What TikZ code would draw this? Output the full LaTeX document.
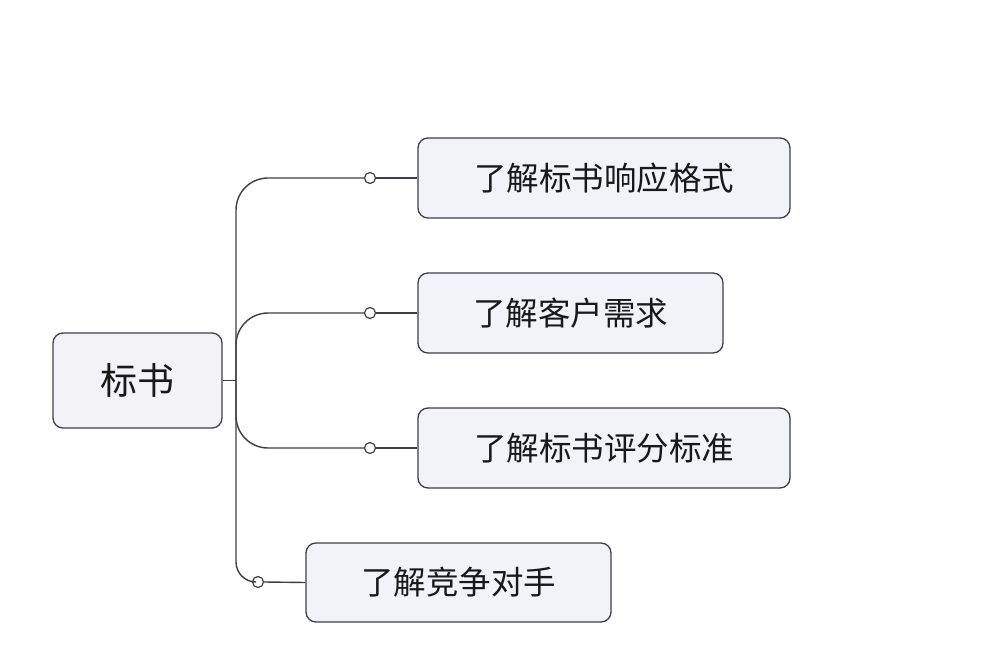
\documentclass[tikz,border=0pt]{standalone}
\usepackage{fontspec}
\newfontfamily\cjk{Noto Sans CJK SC}
\definecolor{edge}{HTML}{3E3E4A}
\definecolor{boxfill}{HTML}{F1F3F9}
\definecolor{rootfill}{HTML}{F3F3F7}
\tikzset{
  topicbox/.style={draw=edge, line width=1.3pt, rounded corners=10pt, fill=boxfill,
    minimum height=80pt, inner sep=0pt, font=\cjk\fontsize{32.5}{38}\selectfont, text=black!90},
  rootbox/.style={topicbox, fill=rootfill, minimum width=169pt, minimum height=95pt,
    font=\cjk\fontsize{37}{42}\selectfont},
  knob/.style={circle, draw=edge, line width=1.2pt, fill=white, inner sep=0pt, minimum size=11pt},
  link/.style={draw=edge, line width=1.4pt},
}
\begin{document}
\begin{tikzpicture}[x=1pt,y=-1pt]
\useasboundingbox[fill=white] (0,0) rectangle (996,668);
\node[rootbox] (root) at (137.5,380.5) {标书};
\node[topicbox, minimum width=372pt] (b1) at (604,178) {了解标书响应格式};
\node[topicbox, minimum width=305pt] (b2) at (570.5,313) {了解客户需求};
\node[topicbox, minimum width=372pt] (b3) at (604,448) {了解标书评分标准};
\node[topicbox, minimum width=305pt, minimum height=79pt] (b4) at (458.5,582.5) {了解竞争对手};
\coordinate (t) at (236,380.5);
\node[knob] (c1) at (370,178) {};
\node[knob] (c2) at (370,313) {};
\node[knob] (c3) at (370,448) {};
\node[knob] (c4) at (258,582) {};
\draw[link] (root.east) -- (t);
\draw[link, rounded corners=32pt] (t) |- (c1.west);
\draw[link, rounded corners=32pt] (t) |- (c2.west);
\draw[link, rounded corners=32pt] (t) |- (c3.west);
\draw[link, rounded corners=20pt] (t) |- (c4.west);
\draw[link] (c1.east) -- (b1.west);
\draw[link] (c2.east) -- (b2.west);
\draw[link] (c3.east) -- (b3.west);
\draw[link] (c4.east) -- (b4.west);
\end{tikzpicture}
\end{document}
